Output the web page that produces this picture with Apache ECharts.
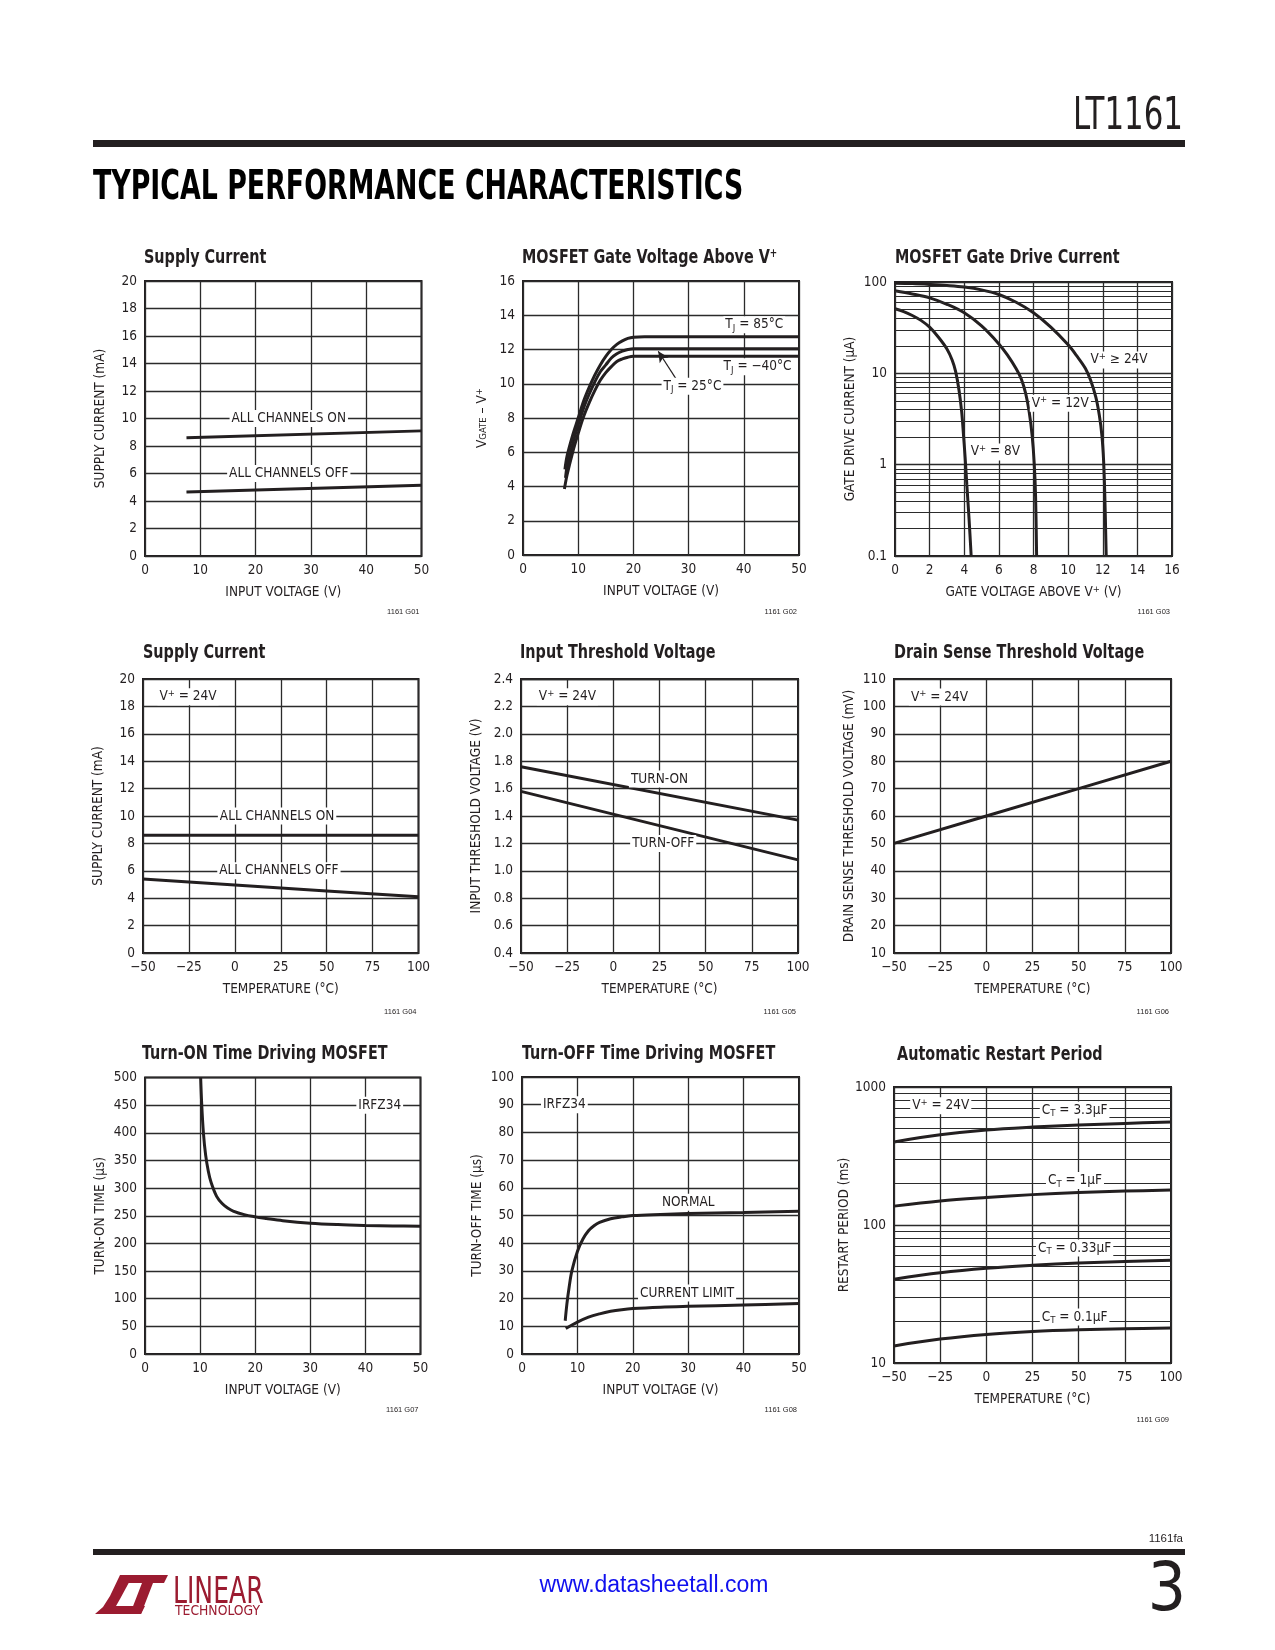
<!DOCTYPE html>
<html><head><meta charset="utf-8">
<script src="https://cdn.jsdelivr.net/npm/echarts@6/dist/echarts.min.js"></script>
<style>html,body{margin:0;padding:0;background:#fff}#c{width:1275px;height:1650px}</style>
</head><body><div id="c"></div>
<script>
// ---------------- data ----------------
const voltTicks = [0, 10, 20, 30, 40, 50];
const tempTicks = [-50, -25, 0, 25, 50, 75, 100];
const gateTicks = [0, 2, 4, 6, 8, 10, 12, 14, 16];
const c1YTicks = [0, 2, 4, 6, 8, 10, 12, 14, 16, 18, 20];
const c2YTicks = [0, 2, 4, 6, 8, 10, 12, 14, 16];
const c3YTicks = [0.1, 1, 10, 100];
const c3Minor = [0.2,0.3,0.4,0.5,0.6,0.7,0.8,0.9,2,3,4,5,6,7,8,9,20,30,40,50,60,70,80,90];
const c5YTicks = [0.4,0.6,0.8,1.0,1.2,1.4,1.6,1.8,2.0,2.2,2.4];
const c6YTicks = [10,20,30,40,50,60,70,80,90,100,110];
const c7YTicks = [0,50,100,150,200,250,300,350,400,450,500];
const c8YTicks = [0,10,20,30,40,50,60,70,80,90,100];
const c9YTicks = [10, 100, 1000];
const c9Minor = [20,30,40,50,60,70,80,90,200,300,400,500,600,700,800,900];

// 1: supply current vs input voltage
const c1On  = [[7.5, 8.6], [50, 9.1]];
const c1Off = [[7.5, 4.65], [50, 5.15]];
// 2: gate voltage above V+
const c2T85 = [[7.6,5.0],[8,5.8],[9,7.0],[10,8.0],[11,9.0],[12,9.8],[13,10.5],[14,11.1],[15,11.6],[16,12.0],[17,12.3],[18,12.5],[19,12.65],[20,12.72],[22,12.75],[50,12.75]];
const c2T25 = [[7.7,4.5],[8,5.2],[9,6.5],[10,7.6],[11,8.6],[12,9.4],[13,10.1],[14,10.7],[15,11.1],[16,11.5],[17,11.75],[18,11.9],[19,12.0],[20,12.05],[50,12.05]];
const c2Tm40 = [[7.5,3.85],[8,4.7],[9,6.0],[10,7.1],[11,8.1],[12,8.9],[13,9.6],[14,10.2],[15,10.65],[16,11.0],[17,11.3],[18,11.45],[19,11.55],[20,11.6],[50,11.6]];
// 3: gate drive current
const c3V24 = [[0,97],[1,96],[2,94],[3,91.5],[4,88],[5,82],[6,73],[7,60],[8,46],[9,32],[10,20.5],[10.5,15.5],[11,11.3],[11.3,8.4],[11.6,5.5],[11.8,3.5],[11.95,2.1],[12.05,1.1],[12.12,0.45],[12.2,0.1]];
const c3V12 = [[0,80],[1,74],[2,67],[3,57],[4,46],[5,33],[6,21],[6.5,15.8],[7,11.2],[7.3,8.6],[7.55,6],[7.75,3.8],[7.92,2.1],[8.04,1.05],[8.12,0.45],[8.18,0.1]];
const c3V8  = [[0,51],[0.5,47.5],[1,43],[1.5,38],[2,32],[2.5,25],[3,18.5],[3.3,14],[3.5,10.5],[3.7,6.5],[3.85,3.8],[3.95,2.2],[4.05,1.2],[4.15,0.6],[4.28,0.25],[4.4,0.1]];
// 4: supply current vs temperature
const c4On  = [[-50, 8.6], [100, 8.6]];
const c4Off = [[-50, 5.4], [0, 4.97], [50, 4.53], [100, 4.1]];
// 5: input threshold
const c5On  = [[-50, 1.76], [100, 1.37]];
const c5Off = [[-50, 1.58], [100, 1.08]];
// 6: drain sense threshold
const c6Line = [[-50, 50], [0, 60], [50, 70], [100, 80]];
// 7: turn-on time
const c7Line = [[10.1,500],[10.3,450],[10.6,400],[11,360],[11.5,330],[12,310],[13,285],[14,272],[15,264],[16,258.5],[18,252],[20,248],[22,245],[25,241],[30,236.5],[35,234],[40,232.5],[45,231.5],[50,231]];
// 8: turn-off time
const c8Normal = [[7.8,12],[8.1,18],[8.5,24],[9,30],[10,37],[11,41.5],[12,44.5],[13,46.3],[14,47.5],[16,48.8],[18,49.5],[20,50],[25,50.4],[30,50.7],[40,51.1],[50,51.5]];
const c8Limit  = [[7.9,9.2],[10,11.5],[12,13.3],[14,14.5],[16,15.4],[18,16],[20,16.4],[25,16.9],[30,17.2],[40,17.7],[50,18.2]];
// 9: restart period
const c9C33  = [[-50,400],[-25,450],[0,488],[25,512],[50,530],[75,545],[100,557]];
const c9C1   = [[-50,137],[-25,149],[0,158],[25,166],[50,172],[75,176],[100,179]];
const c9C033 = [[-50,40.5],[-25,45],[0,48.5],[25,51],[50,53],[75,54.5],[100,55.5]];
const c9C01  = [[-50,13.3],[-25,14.9],[0,16.1],[25,16.9],[50,17.4],[75,17.7],[100,17.9]];

// ---------------- styles / builder ----------------
const INK = '#231f20';
const GRIDC = '#2b2b2b';
const FN = "'Liberation Sans Narrow','DejaVu Sans Condensed','Roboto Condensed','Liberation Sans',Arial,sans-serif";
const RICH = {
  sup: {fontSize: 9.5, lineHeight: 10, verticalAlign: 'top', fontFamily: FN, color: INK},
  sub: {fontSize: 9.5, lineHeight: 10, verticalAlign: 'bottom', fontFamily: FN, color: INK}
};
const grids = [], xAxes = [], yAxes = [], series = [], graphics = [];
const fmtX = v => v < 0 ? '\u2212' + (-v) : String(v);

function addChart(c) {
  const i = grids.length;
  const b = c.box;
  grids.push({left: b[0], top: b[1], width: b[2] - b[0], height: b[3] - b[1], show: true,
    borderColor: INK, borderWidth: 2, backgroundColor: 'transparent', containLabel: false});
  const xt = c.xTicks, yt = c.yTicks;
  const nameStyle = {color: INK, fontFamily: FN, fontSize: 13.5, rich: RICH};
  xAxes.push({gridIndex: i, type: 'value', min: xt[0], max: xt[xt.length - 1], interval: xt[1] - xt[0],
    axisLine: {show: false}, axisTick: {show: false},
    splitLine: {show: true, lineStyle: {color: GRIDC, width: 1.3}},
    axisLabel: {color: INK, fontFamily: FN, fontSize: 13.5, margin: 7, formatter: fmtX},
    name: c.xName, nameLocation: 'middle', nameGap: 29, nameTextStyle: nameStyle});
  const ya = {gridIndex: i, min: yt[0], max: yt[yt.length - 1],
    axisLine: {show: false}, axisTick: {show: false},
    splitLine: {show: true, lineStyle: {color: GRIDC, width: 1.3}},
    axisLabel: {color: INK, fontFamily: FN, fontSize: 13.5, margin: 8, formatter: c.yFmt || (v => String(v))},
    name: c.yName, nameLocation: 'middle', nameRotate: 90, nameGap: c.yGap || 38, nameTextStyle: nameStyle};
  if (c.log) { ya.type = 'log'; ya.logBase = 10; } else { ya.type = 'value'; ya.interval = yt[1] - yt[0]; }
  yAxes.push(ya);
  c.lines.forEach((d, k) => {
    const s = {type: 'line', xAxisIndex: i, yAxisIndex: i, data: d, smooth: c.smooth ? 0.35 : false,
      symbol: 'none', showSymbol: false, silent: true, lineStyle: {color: INK, width: 3}, z: 3};
    if (k === 0 && c.minor) {
      s.markLine = {silent: true, symbol: 'none', animation: false, label: {show: false},
        lineStyle: {color: GRIDC, width: 1.1, type: 'solid'}, data: c.minor.map(v => ({yAxis: v}))};
    }
    if (c.arrow && k === c.arrow.series) {
      s.markLine = {silent: true, animation: false, symbol: ['none', 'arrow'], symbolSize: [8, 11], label: {show: false},
        lineStyle: {color: INK, width: 1.2, type: 'solid'},
        data: [[{coord: c.arrow.from}, {coord: c.arrow.to}]]};
    }
    series.push(s);
  });
  if (c.notes) {
    series.push({type: 'scatter', xAxisIndex: i, yAxisIndex: i, symbolSize: 1, silent: true, z: 10,
      itemStyle: {color: 'rgba(0,0,0,0)', opacity: 1},
      data: c.notes.map(n => ({value: [n[1], n[2]], label: {show: true, formatter: n[0],
        position: n[3] === 'l' ? 'right' : 'inside', distance: 0,
        color: INK, fontFamily: FN, fontSize: 13.5, lineHeight: 17, backgroundColor: '#fff',
        padding: [0, 2, 0, 2], rich: RICH}}))});
  }
  // chart title
  graphics.push({type: 'text', x: c.title[1], y: c.title[2], silent: true, scaleX: 0.82,
    style: {text: c.title[0], fill: INK, fontFamily: FN, fontWeight: 'bold', fontSize: 19.5,
      align: 'left', verticalAlign: 'middle',
      rich: {sup: {fontSize: 12, lineHeight: 12, verticalAlign: 'top', fontFamily: FN, fontWeight: 'bold', fill: INK}}}});
  // code
  graphics.push({type: 'text', x: b[2] - 2, y: c.code[1], silent: true,
    style: {text: c.code[0], fill: INK, fontFamily: "'Liberation Sans',Arial,sans-serif", fontSize: 7.5,
      align: 'right', verticalAlign: 'middle'}});
}

addChart({box: [145, 281, 421.5, 556], xTicks: voltTicks, yTicks: c1YTicks,
  xName: 'INPUT VOLTAGE (V)', yName: 'SUPPLY CURRENT (mA)', lines: [c1On, c1Off],
  title: ['Supply Current', 144, 258], code: ['1161 G01', 612],
  notes: [['ALL CHANNELS ON', 26, 10], ['ALL CHANNELS OFF', 26, 6]]});
addChart({box: [523, 281, 799, 555], xTicks: voltTicks, yTicks: c2YTicks, smooth: true,
  xName: 'INPUT VOLTAGE (V)', yName: 'V{sub|GATE} \u2013 V{sup|+}', yGap: 34, lines: [c2T85, c2T25, c2Tm40],
  title: ['MOSFET Gate Voltage Above V{sup|+}', 522, 258], code: ['1161 G02', 612],
  arrow: {series: 1, from: [27.7, 10.3], to: [24.5, 11.9]},
  notes: [['T{sub|J} = 85°C', 41.9, 13.45], ['T{sub|J} = \u221240°C', 42.5, 11.0], ['T{sub|J} = 25°C', 30.7, 9.85]]});
addChart({box: [895, 282, 1172, 556], xTicks: gateTicks, yTicks: c3YTicks, log: true, minor: c3Minor, smooth: true,
  xName: 'GATE VOLTAGE ABOVE V{sup|+} (V)', yName: 'GATE DRIVE CURRENT (\u00b5A)', lines: [c3V24, c3V12, c3V8],
  title: ['MOSFET Gate Drive Current', 895, 258], code: ['1161 G03', 612],
  notes: [['V{sup|+} \u2265 24V', 11.15, 14, 'l'], ['V{sup|+} = 12V', 9.55, 4.7], ['V{sup|+} = 8V', 5.8, 1.38]]});
addChart({box: [143, 679, 418.5, 953], xTicks: tempTicks, yTicks: c1YTicks,
  xName: 'TEMPERATURE (°C)', yName: 'SUPPLY CURRENT (mA)', lines: [c4On, c4Off],
  title: ['Supply Current', 143, 653], code: ['1161 G04', 1012],
  notes: [['V{sup|+} = 24V', -42.4, 18.7, 'l'], ['ALL CHANNELS ON', 23, 10], ['ALL CHANNELS OFF', 24, 6]]});
addChart({box: [521, 679, 798, 953], xTicks: tempTicks, yTicks: c5YTicks, yFmt: v => v.toFixed(1),
  xName: 'TEMPERATURE (°C)', yName: 'INPUT THRESHOLD VOLTAGE (V)', lines: [c5On, c5Off],
  title: ['Input Threshold Voltage', 520, 653], code: ['1161 G05', 1012],
  notes: [['V{sup|+} = 24V', -41.7, 2.27, 'l'], ['TURN-ON', 25, 1.67], ['TURN-OFF', 27, 1.2]]});
addChart({box: [894, 679, 1171, 953], xTicks: tempTicks, yTicks: c6YTicks,
  xName: 'TEMPERATURE (°C)', yName: 'DRAIN SENSE THRESHOLD VOLTAGE (mV)', lines: [c6Line],
  title: ['Drain Sense Threshold Voltage', 894, 653], code: ['1161 G06', 1012],
  notes: [['V{sup|+} = 24V', -42.2, 103.4, 'l']]});
addChart({box: [145, 1077.5, 420.5, 1354], xTicks: voltTicks, yTicks: c7YTicks, smooth: true,
  xName: 'INPUT VOLTAGE (V)', yName: 'TURN-ON TIME (\u00b5s)', lines: [c7Line],
  title: ['Turn-ON Time Driving MOSFET', 142, 1054], code: ['1161 G07', 1410],
  notes: [['IRFZ34', 42.6, 450]]});
addChart({box: [522, 1077, 799, 1354], xTicks: voltTicks, yTicks: c8YTicks, smooth: true,
  xName: 'INPUT VOLTAGE (V)', yName: 'TURN-OFF TIME (\u00b5s)', lines: [c8Normal, c8Limit],
  title: ['Turn-OFF Time Driving MOSFET', 522, 1054], code: ['1161 G08', 1410],
  notes: [['IRFZ34', 7.65, 90], ['NORMAL', 30, 54.8], ['CURRENT LIMIT', 29.8, 22]]});
addChart({box: [894, 1087, 1171, 1363], xTicks: tempTicks, yTicks: c9YTicks, log: true, minor: c9Minor, smooth: true,
  xName: 'TEMPERATURE (°C)', yName: 'RESTART PERIOD (ms)', lines: [c9C33, c9C1, c9C033, c9C01],
  title: ['Automatic Restart Period', 897, 1055], code: ['1161 G09', 1420],
  notes: [['V{sup|+} = 24V', -41.5, 730, 'l'], ['C{sub|T} = 3.3\u00b5F', 47.8, 680], ['C{sub|T} = 1\u00b5F', 48, 210],
          ['C{sub|T} = 0.33\u00b5F', 47.8, 68], ['C{sub|T} = 0.1\u00b5F', 47.8, 21.5]]});

// ---------------- page furniture ----------------
graphics.push(
  {type: 'text', x: 1183, y: 118, silent: true, scaleX: 0.88, scaleY: 1.12,
   style: {text: 'LT1161', fill: INK, fontFamily: FN, fontSize: 39, align: 'right', verticalAlign: 'middle'}},
  {type: 'rect', shape: {x: 93, y: 140, width: 1092, height: 7}, style: {fill: INK}, silent: true},
  {type: 'text', x: 93, y: 188, silent: true, scaleX: 0.89, scaleY: 1.22,
   style: {text: 'TYPICAL PERFORMANCE CHARACTERISTICS', fill: '#000', fontFamily: FN, fontWeight: 900, fontSize: 33.5,
     align: 'left', verticalAlign: 'middle'}},
  {type: 'rect', shape: {x: 93, y: 1549, width: 1092, height: 6}, style: {fill: INK}, silent: true},
  {type: 'text', x: 1183, y: 1539, silent: true,
   style: {text: '1161fa', fill: INK, fontFamily: "'Liberation Sans',Arial,sans-serif", fontSize: 11.5, align: 'right', verticalAlign: 'middle'}},
  {type: 'text', x: 654, y: 1586, silent: true,
   style: {text: 'www.datasheetall.com', fill: '#1010ee', fontFamily: "'Liberation Sans',Arial,sans-serif", fontSize: 23, align: 'center', verticalAlign: 'middle'}},
  {type: 'text', x: 1186, y: 1593, silent: true,
   style: {text: '3', fill: INK, fontFamily: FN, fontSize: 67, align: 'right', verticalAlign: 'middle'}},
  {type: 'polygon', silent: true, shape: {points: [[120,1575],[133,1575],[120,1599],[116,1606],[145,1606],[141,1614],[95,1614],[103,1607],[110,1596]]}, style: {fill: '#9b1b30'}},
  {type: 'polygon', silent: true, shape: {points: [[129,1575],[168,1575],[164,1583],[153,1583],[141,1614],[130,1614],[142,1583],[126,1583]]}, style: {fill: '#9b1b30'}},
  {type: 'text', x: 173, y: 1575, silent: true, scaleX: 0.93, scaleY: 1.25,
   style: {text: 'LINEAR', fill: '#9b1b30', fontFamily: FN, fontSize: 30, align: 'left', verticalAlign: 'top'}},
  {type: 'text', x: 175, y: 1611, silent: true, scaleX: 0.95,
   style: {text: 'TECHNOLOGY', fill: '#9b1b30', fontFamily: FN, fontSize: 14.5, align: 'left', verticalAlign: 'middle'}}
);

const chart = echarts.init(document.getElementById('c'), null, {renderer: 'canvas'});
chart.setOption({
  animation: false,
  backgroundColor: '#fff',
  textStyle: {fontFamily: FN},
  grid: grids, xAxis: xAxes, yAxis: yAxes, series: series, graphic: graphics
});
</script></body></html>
